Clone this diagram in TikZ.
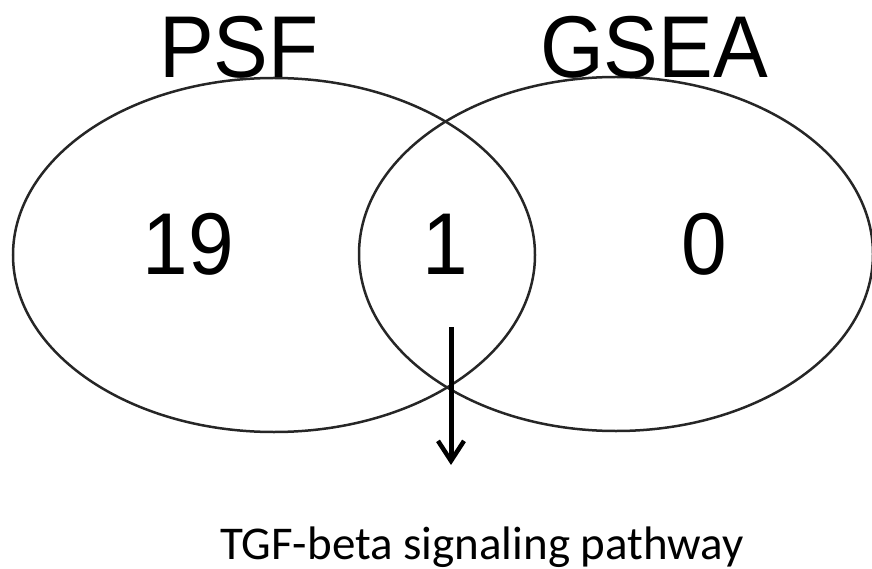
\documentclass[tikz,border=0pt]{standalone}
\usepackage{fontspec}
\setmainfont{Liberation Sans}
\newfontfamily\calib{Carlito}
\usetikzlibrary{shapes.geometric,arrows.meta}
\newcommand{\tallish}[1]{\scalebox{1}[1.07]{#1}}
\tikzset{
  venn/.style={draw=black!85, line width=2.5pt, ellipse, inner sep=0pt},
  biglabel/.style={inner sep=0pt, anchor=base, font=\fontsize{82}{90}\selectfont},
  caption/.style={inner sep=0pt, anchor=base, font=\calib\fontsize{47}{52}\selectfont},
  pointer/.style={line width=5pt, -{Straight Barb[length=20pt,width=26pt,line width=4.5pt]}}
}
\begin{document}
\begin{tikzpicture}[x=1pt,y=-1pt]
\useasboundingbox (0,0) rectangle (872,569);
\node[venn, minimum width=522pt, minimum height=354pt] (L) at (274,255) {};
\node[venn, minimum width=514pt, minimum height=354pt] (R) at (616,254) {};
\node[biglabel] (psf) at (239,78) {\tallish{PSF}};
\node[biglabel] (gsea) at (654,78) {\tallish{GSEA}};
\node[biglabel] (n19) at (188.5,274) {\tallish{19}};
\node[biglabel] (n1) at (445,274) {\tallish{1}};
\node[biglabel] (n0) at (704,274) {\tallish{0}};
\node[caption] (tgf) at (482,559) {TGF-beta signaling pathway};
\coordinate (a1) at (451,327);
\coordinate (a2) at (451,465);
\draw[pointer] (a1) -- (a2);
\end{tikzpicture}
\end{document}
